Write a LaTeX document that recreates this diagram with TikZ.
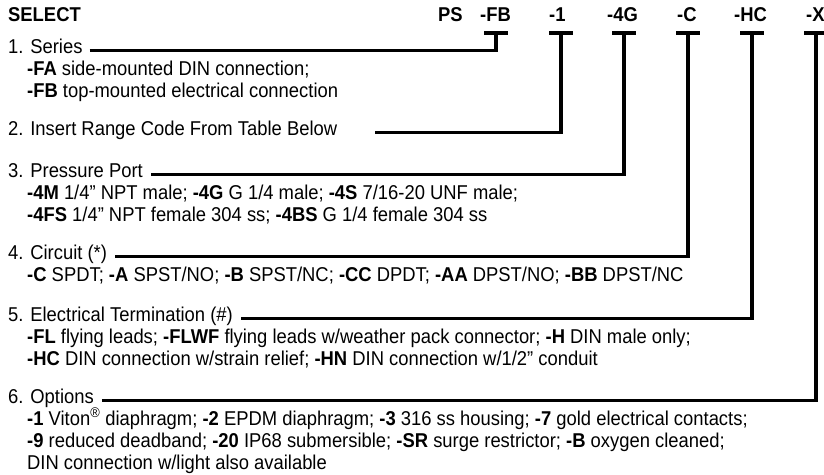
\documentclass[tikz,border=0pt]{standalone}
\usepackage{fontspec}
\setmainfont{Liberation Sans}[FakeStretch=0.92]
\begin{document}
\begin{tikzpicture}[x=1pt,y=-1pt,
  txt/.style={anchor=base west,inner sep=0pt,font=\fontsize{20}{22}\selectfont},
  code/.style={anchor=base west,inner sep=0pt,font=\fontsize{20}{22}\selectfont\bfseries},
  conn/.style={line width=3.4pt,line join=miter},
  tbar/.style={line width=3.4pt}]
\useasboundingbox (0,0) rectangle (824,474);
% header
\node[code] (sel) at (8,21) {SELECT};
\node[code] (ps) at (438,21) {PS};
\node[code] (kFB) at (480,21) {-FB};
\node[code] (k1) at (549,21) {-1};
\node[code] (k4G) at (607,21) {-4G};
\node[code] (kC) at (677,21) {-C};
\node[code] (kHC) at (734,21) {-HC};
\node[code] (kX) at (806,21) {-X};
% bar centres
\coordinate (cFB) at (496,33);
\coordinate (c1) at (561,33);
\coordinate (c4G) at (624,33);
\coordinate (cC) at (688,33);
\coordinate (cHC) at (752,33);
\coordinate (cX) at (816,33);
\foreach \c in {cFB,c1,c4G,cC,cHC,cX}
  \draw[tbar] ([xshift=-12pt]\c) -- ([xshift=12pt]\c);
% items
\node[txt] (t1) at (8,53) {1. Series};
\node[txt] (t1a) at (27,75) {\textbf{-FA} side-mounted DIN connection;};
\node[txt] (t1b) at (27,97) {\textbf{-FB} top-mounted electrical connection};
\node[txt] (t2) at (8,135) {2. Insert Range Code From Table Below};
\node[txt] (t3) at (8,177) {3. Pressure Port};
\node[txt] (t3a) at (27,199) {\textbf{-4M} 1/4” NPT male; \textbf{-4G} G 1/4 male; \textbf{-4S} 7/16-20 UNF male;};
\node[txt] (t3b) at (27,221) {\textbf{-4FS} 1/4” NPT female 304 ss; \textbf{-4BS} G 1/4 female 304 ss};
\node[txt] (t4) at (8,259) {4. Circuit (*)};
\node[txt] (t4a) at (27,281) {\textbf{-C} SPDT; \textbf{-A} SPST/NO; \textbf{-B} SPST/NC; \textbf{-CC} DPDT; \textbf{-AA} DPST/NO; \textbf{-BB} DPST/NC};
\node[txt] (t5) at (8,321) {5. Electrical Termination (\#)};
\node[txt] (t5a) at (27,343) {\textbf{-FL} flying leads; \textbf{-FLWF} flying leads w/weather pack connector; \textbf{-H} DIN male only;};
\node[txt] (t5b) at (27,365) {\textbf{-HC} DIN connection w/strain relief; \textbf{-HN} DIN connection w/1/2” conduit};
\node[txt] (t6) at (8,403) {6. Options};
\node[txt] (t6a) at (27,425) {\textbf{-1} Viton\textsuperscript{®} diaphragm; \textbf{-2} EPDM diaphragm; \textbf{-3} 316 ss housing; \textbf{-7} gold electrical contacts;};
\node[txt] (t6b) at (27,447) {\textbf{-9} reduced deadband; \textbf{-20} IP68 submersible; \textbf{-SR} surge restrictor; \textbf{-B} oxygen cleaned;};
\node[txt] (t6c) at (27,469) {DIN connection w/light also available};
% connectors
\draw[conn] ([xshift=7pt]t1.mid east) -| (cFB);
\draw[conn] ([xshift=38pt]t2.mid east) -| (c1);
\draw[conn] ([xshift=8pt]t3.mid east) -| (c4G);
\draw[conn] ([xshift=8pt]t4.mid east) -| (cC);
\draw[conn] ([xshift=8pt]t5.mid east) -| (cHC);
\draw[conn] ([xshift=8pt]t6.mid east) -| (cX);
\end{tikzpicture}
\end{document}
